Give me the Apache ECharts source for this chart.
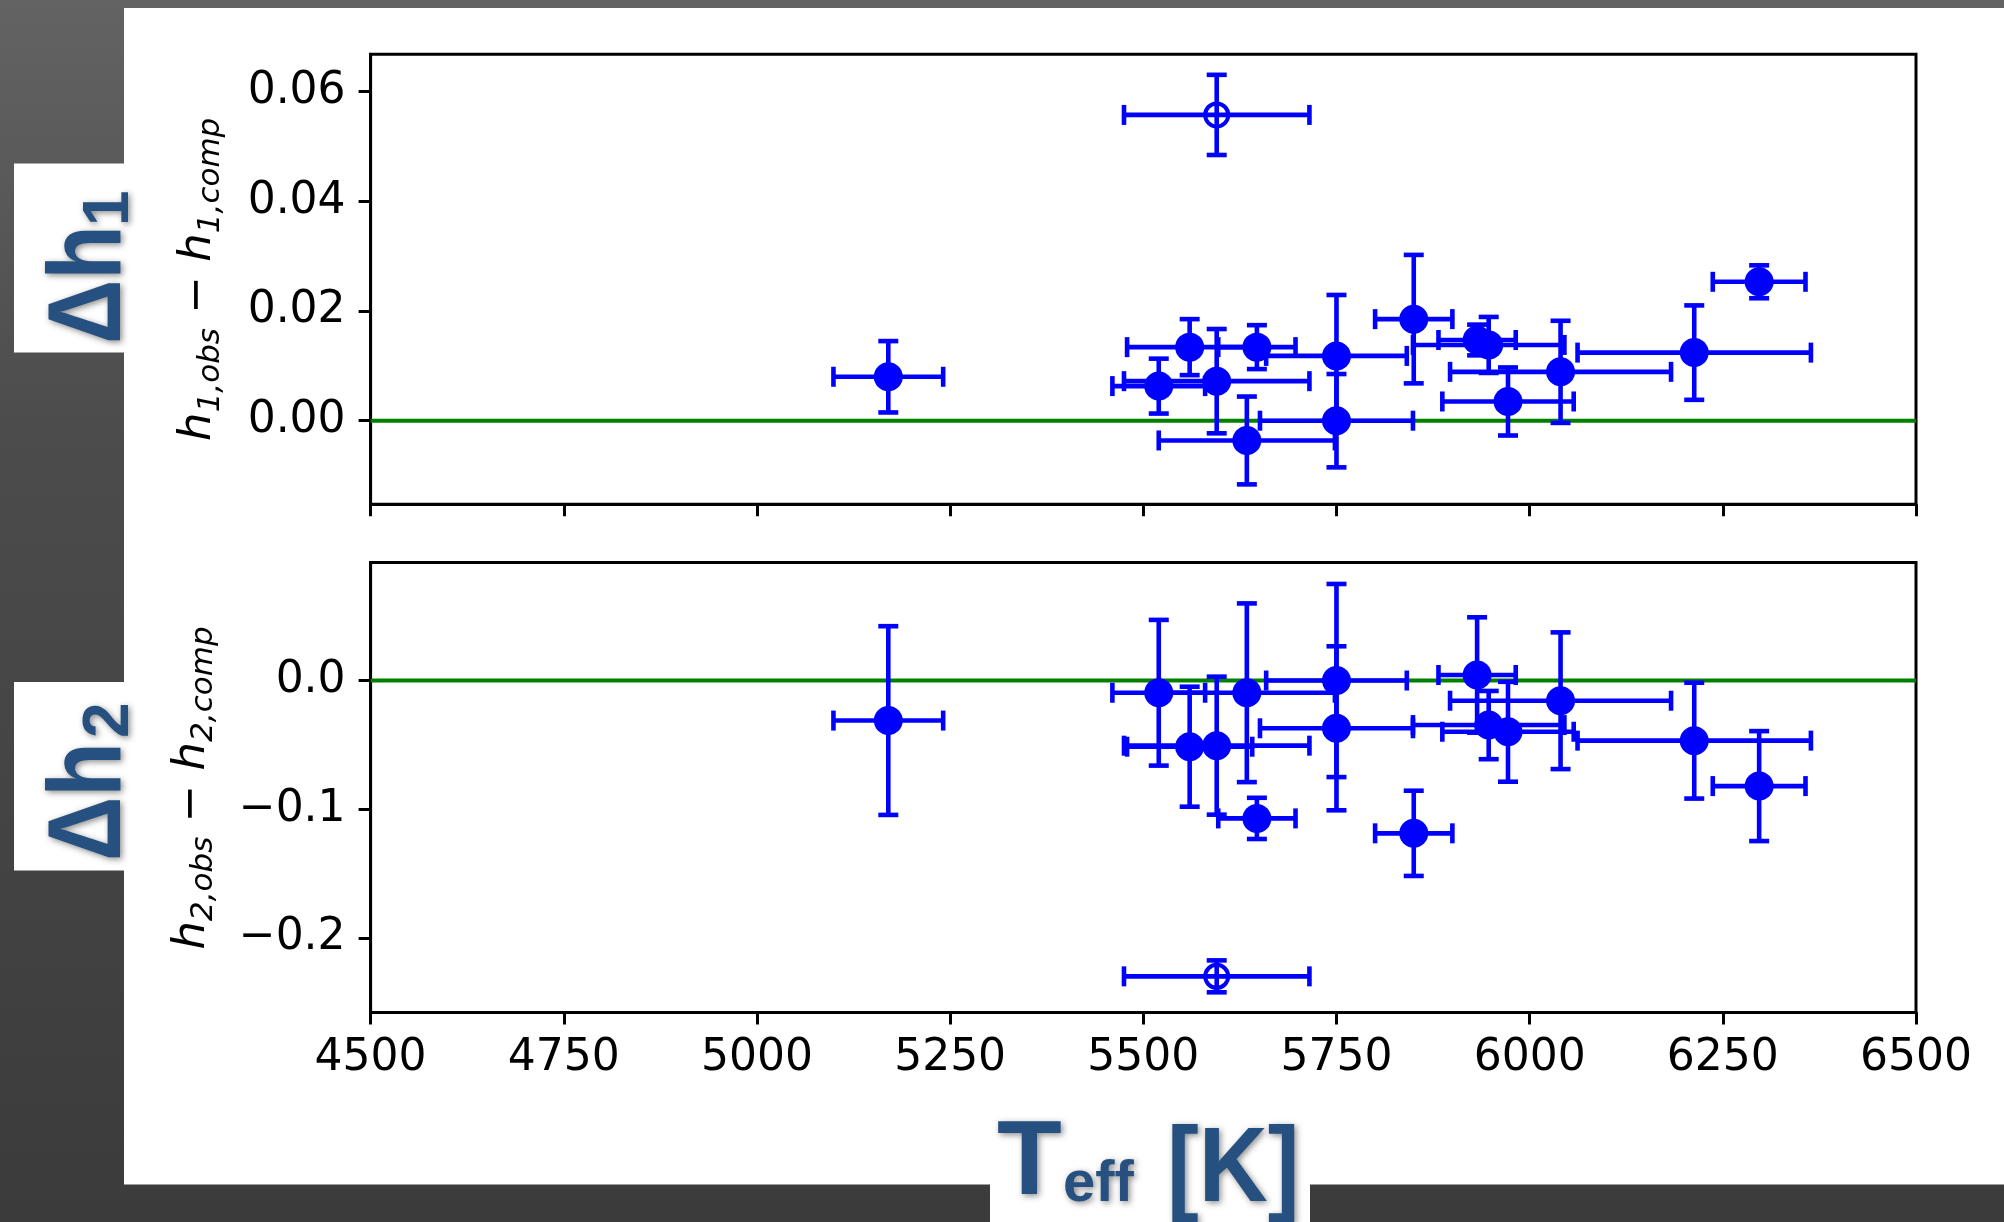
<!DOCTYPE html>
<html>
<head>
<meta charset="utf-8">
<script src="https://cdn.jsdelivr.net/npm/echarts@6/dist/echarts.min.js"></script>
<style>
  html, body { margin: 0; padding: 0; background: #3a3a3a; }
  #chart { width: 2004px; height: 1222px; }
</style>
</head>
<body>
<div id="chart"></div>
<script>
// ---- data ----
const teff    = [5170, 5520, 5560, 5595, 5634, 5647, 5750, 5750, 5850, 5932, 5947, 5972, 6040, 6213, 6297];
const teffErr = [71, 60, 81, 120, 114, 50, 91, 99, 50, 50, 98, 85, 143, 151, 60];
const dh1     = [0.0080, 0.0063, 0.0134, 0.0072, -0.0036, 0.0134, 0.0118, 0.0000, 0.0185, 0.0147, 0.0138, 0.0035, 0.0089, 0.0124, 0.0253];
const dh1Err  = [0.0065, 0.0050, 0.0051, 0.0095, 0.0080, 0.0040, 0.0111, 0.0085, 0.0117, 0.0028, 0.0051, 0.0062, 0.0093, 0.0086, 0.0030];
const dh2     = [-0.0311, -0.0095, -0.0514, -0.0506, -0.0095, -0.1071, 0.0000, -0.0371, -0.1187, 0.0043, -0.0346, -0.0398, -0.0157, -0.0467, -0.0820];
const dh2Err  = [0.0733, 0.0566, 0.0466, 0.0536, 0.0694, 0.0160, 0.0750, 0.0637, 0.0331, 0.0448, 0.0265, 0.0388, 0.0531, 0.0450, 0.0427];

const openTeff    = [5595];
const openTeffErr = [120];
const openDh1     = [0.0557];
const openDh1Err  = [0.0073];
const openDh2     = [-0.2298];
const openDh2Err  = [0.0124];

const xRange  = [4500, 6500];
const xStep   = 250;
const y1Range = [-0.01523, 0.06674];
const y2Range = [-0.2578, 0.0916];
const y1Ticks = [0.00, 0.02, 0.04, 0.06];
const y2Ticks = [-0.2, -0.1, 0.0];

// ---- styling constants ----
const BLUE = '#0000ff';
const GREEN = '#008000';
const TITLE_BLUE = '#25507f';
const BAR_W = 4.6;
const CAP = 10;

function errData(xs, xe, ys, ye) {
  return xs.map((x, i) => [x, ys[i], xe[i], ye[i]]);
}
function ptData(xs, ys) {
  return xs.map((x, i) => [x, ys[i]]);
}
function errRender(params, api) {
  const x = api.value(0), y = api.value(1), xe = api.value(2), ye = api.value(3);
  const l = api.coord([x - xe, y]), r = api.coord([x + xe, y]);
  const t = api.coord([x, y + ye]), b = api.coord([x, y - ye]);
  const st = { stroke: BLUE, lineWidth: BAR_W, fill: null };
  const ln = (x1, y1, x2, y2) => ({ type: 'line', shape: { x1, y1, x2, y2 }, style: st });
  return {
    type: 'group',
    children: [
      ln(l[0], l[1], r[0], r[1]),
      ln(t[0], t[1], b[0], b[1]),
      ln(l[0], l[1] - CAP, l[0], l[1] + CAP),
      ln(r[0], r[1] - CAP, r[0], r[1] + CAP),
      ln(t[0] - CAP, t[1], t[0] + CAP, t[1]),
      ln(b[0] - CAP, b[1], b[0] + CAP, b[1])
    ]
  };
}

const tickFont = { fontFamily: 'DejaVu Sans', fontSize: 44, color: '#000' };
const axLine = { show: true, onZero: false, lineStyle: { color: '#000', width: 3 } };
const axTick = { show: true, inside: false, length: 12, lineStyle: { color: '#000', width: 3 } };

function xAxis(gridIndex, showLabels) {
  return {
    type: 'value', gridIndex, min: xRange[0], max: xRange[1], interval: xStep,
    position: 'bottom',
    axisLine: axLine, axisTick: axTick, splitLine: { show: false },
    axisLabel: Object.assign({ show: showLabels, margin: 24, showMinLabel: true, showMaxLabel: true,
      formatter: v => String(v) }, tickFont)
  };
}
function yAxis(gridIndex, range, ticks, fmt) {
  return {
    type: 'value', gridIndex, min: range[0], max: range[1],
    axisLine: axLine,
    axisTick: Object.assign({ customValues: ticks }, axTick),
    splitLine: { show: false },
    axisLabel: Object.assign({ customValues: ticks, margin: 25, formatter: fmt, showMinLabel: true, showMaxLabel: true }, tickFont)
  };
}
const fmt1 = v => v.toFixed(2);
const fmt2 = v => (v < -1e-9 ? '\u2212' : '') + Math.abs(v).toFixed(1);

function seriesFor(gi, ys, yErr, oys, oyErr) {
  return [
    { type: 'line', xAxisIndex: gi, yAxisIndex: gi, data: [[xRange[0], 0], [xRange[1], 0]],
      symbol: 'none', lineStyle: { color: GREEN, width: 4 }, z: 1, silent: true },
    { type: 'custom', xAxisIndex: gi, yAxisIndex: gi, renderItem: errRender,
      data: errData(teff, teffErr, ys, yErr), encode: { x: 0, y: 1 }, z: 2, silent: true },
    { type: 'custom', xAxisIndex: gi, yAxisIndex: gi, renderItem: errRender,
      data: errData(openTeff, openTeffErr, oys, oyErr), encode: { x: 0, y: 1 }, z: 2, silent: true },
    { type: 'scatter', xAxisIndex: gi, yAxisIndex: gi, data: ptData(teff, ys), symbol: 'circle',
      symbolSize: 29, itemStyle: { color: BLUE, opacity: 1 }, z: 3, silent: true },
    { type: 'scatter', xAxisIndex: gi, yAxisIndex: gi, data: ptData(openTeff, oys), symbol: 'circle',
      symbolSize: 23, itemStyle: { color: 'rgba(0,0,0,0)', borderColor: BLUE, borderWidth: 4, opacity: 1 }, z: 3, silent: true }
  ];
}

const shadow = { textShadowColor: 'rgba(0,0,0,0.45)', textShadowBlur: 6, textShadowOffsetX: 2, textShadowOffsetY: 2 };
function bigText(txt, x, y, fs, rot, extra) {
  return Object.assign({
    type: 'text', x, y, rotation: rot, z: 100,
    style: Object.assign({ text: txt, fontFamily: 'Liberation Sans', fontWeight: 'bold', fontSize: fs,
      fill: TITLE_BLUE, align: 'left', verticalAlign: 'middle' }, shadow)
  }, extra || {});
}

const richY = {
  m: { fontFamily: 'DejaVu Sans', fontStyle: 'italic', fontSize: 45, lineHeight: 60, color: '#000' },
  s: { fontFamily: 'DejaVu Sans', fontStyle: 'italic', fontSize: 31, lineHeight: 60, padding: [24, 0, 0, 0], color: '#000' },
  o: { fontFamily: 'DejaVu Sans', fontSize: 45, lineHeight: 60, color: '#000' }
};
function yTitle(n, x, y) {
  return {
    type: 'text', x, y, rotation: Math.PI / 2, z: 50,
    style: { text: '{m|h}{s|' + n + ',obs}{o| \u2212 }{m|h}{s|' + n + ',comp}', rich: richY,
      align: 'center', verticalAlign: 'middle' }
  };
}

const option = {
  animation: false,
  backgroundColor: 'transparent',
  grid: [
    { left: 370.6, top: 54.3, width: 1545.4, height: 450, show: true, borderColor: '#000', borderWidth: 3,
      backgroundColor: 'transparent', containLabel: false, outerBoundsMode: 'none' },
    { left: 370.6, top: 562.6, width: 1545.4, height: 449.8, show: true, borderColor: '#000', borderWidth: 3,
      backgroundColor: 'transparent', containLabel: false, outerBoundsMode: 'none' }
  ],
  xAxis: [xAxis(0, false), xAxis(1, true)],
  yAxis: [yAxis(0, y1Range, y1Ticks, fmt1), yAxis(1, y2Range, y2Ticks, fmt2)],
  series: [].concat(
    seriesFor(0, dh1, dh1Err, openDh1, openDh1Err),
    seriesFor(1, dh2, dh2Err, openDh2, openDh2Err)
  ),
  graphic: [
    { type: 'rect', z: -100, shape: { x: 0, y: 0, width: 2004, height: 1222 },
      style: { fill: { type: 'linear', x: 0, y: 0, x2: 0, y2: 1,
        colorStops: [{ offset: 0, color: '#636363' }, { offset: 0.35, color: '#4c4c4c' }, { offset: 1, color: '#3b3b3b' }] } } },
    { type: 'rect', z: -90, shape: { x: 124, y: 8, width: 1880, height: 1176.5 }, style: { fill: '#fff' } },
    { type: 'rect', z: -90, shape: { x: 14, y: 163.6, width: 112, height: 189 }, style: { fill: '#fff' } },
    { type: 'rect', z: -90, shape: { x: 14, y: 682, width: 112, height: 188.6 }, style: { fill: '#fff' } },
    { type: 'rect', z: -90, shape: { x: 990, y: 1150, width: 320, height: 72 }, style: { fill: '#fff' } },
    yTitle('1', 198.7, 279.3),
    yTitle('2', 192, 788),
    bigText('\u0394h', 91, 344, 104, Math.PI / 2, { scaleX: 0.86 }),
    bigText('1', 110, 226, 64, Math.PI / 2),
    bigText('\u0394h', 91, 861, 104, Math.PI / 2, { scaleX: 0.86 }),
    bigText('2', 110, 738, 64, Math.PI / 2),
    bigText('T', 997, 1165, 106, 0),
    bigText('eff', 1063, 1185, 58, 0),
    bigText('[K]', 1167, 1172, 106, 0, { scaleX: 0.9 })
  ]
};

const chart = echarts.init(document.getElementById('chart'), null, { renderer: 'canvas' });
chart.setOption(option);
</script>
</body>
</html>
